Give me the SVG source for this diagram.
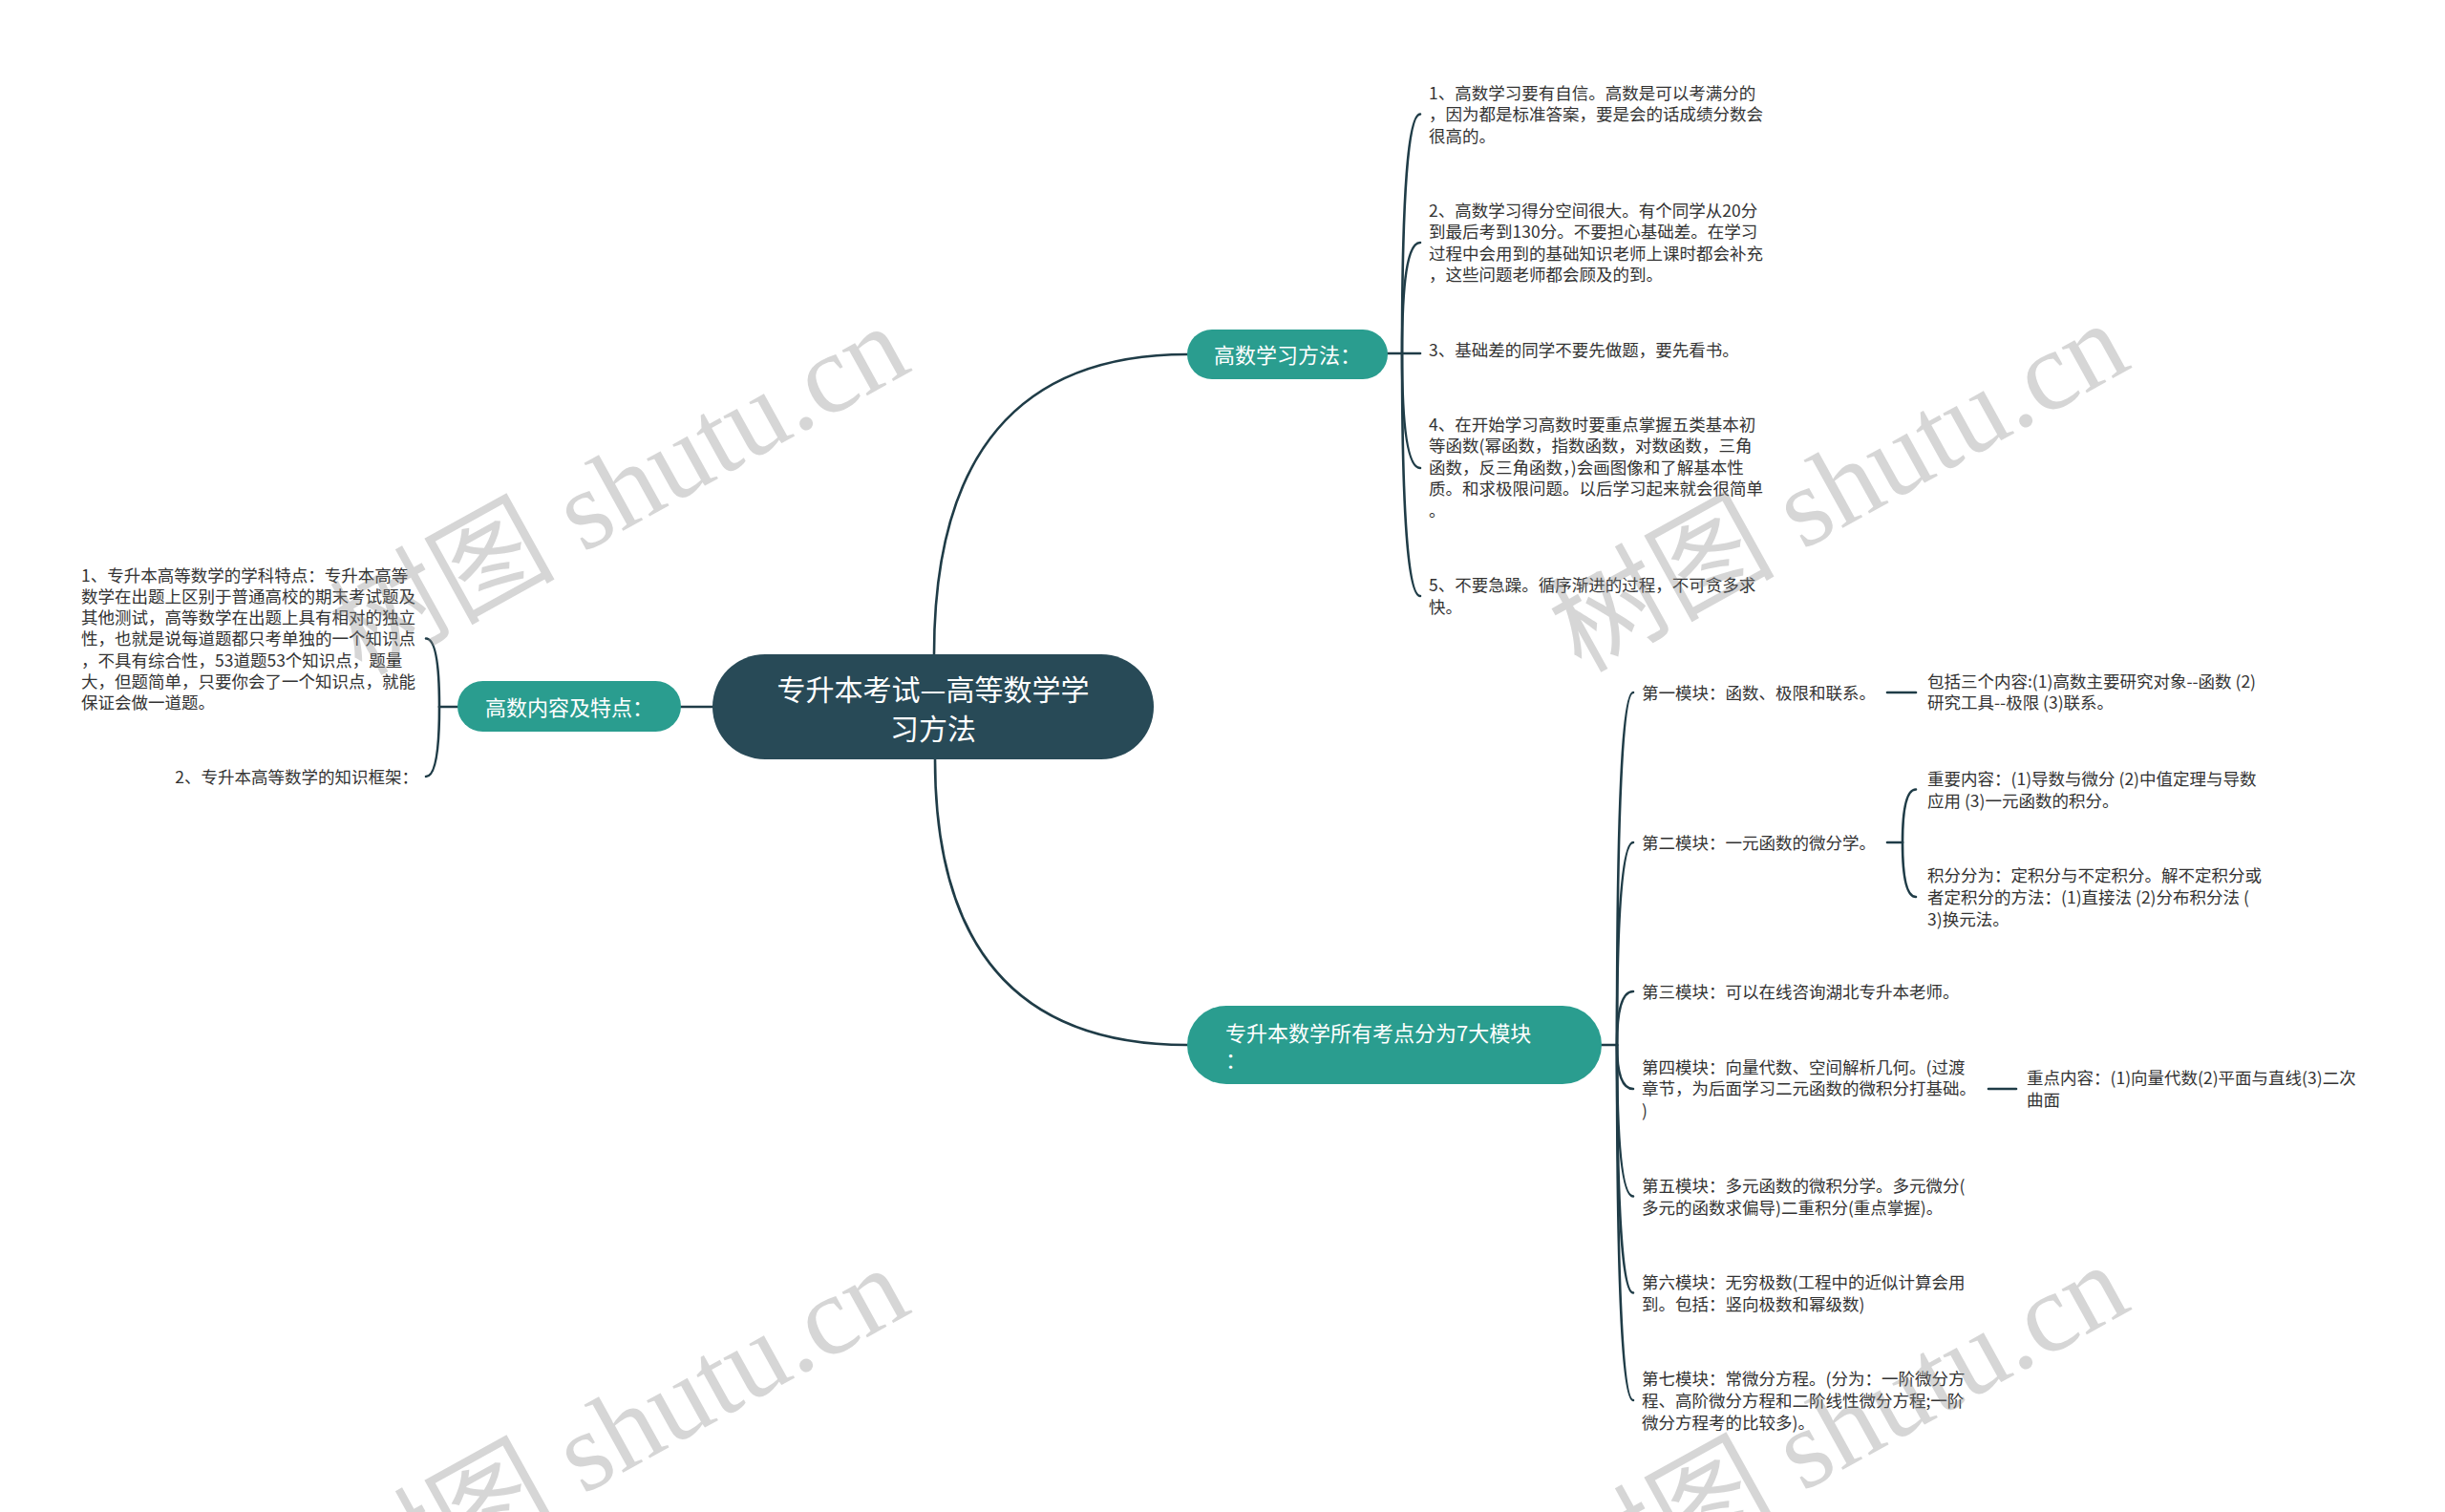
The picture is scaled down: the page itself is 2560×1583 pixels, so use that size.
<svg xmlns="http://www.w3.org/2000/svg" width="2560" height="1583" viewBox="0 0 2560 1583">
<style>
.leaf{font-family:"Noto Sans CJK SC","Liberation Sans",sans-serif;font-size:17.5px;fill:#333}
.root{font-family:"Noto Sans CJK SC","Liberation Sans",sans-serif;font-size:30px;fill:#fff}
.main{font-family:"Noto Sans CJK SC","Liberation Sans",sans-serif;font-size:22px;fill:#fff}
.conn path{fill:none;stroke:#1f3c47;stroke-width:2.6;stroke-linecap:round}
.wm{font-family:"Liberation Serif","Noto Sans CJK SC",serif;font-size:118px;fill:#888;opacity:0.34}
</style>
<rect width="2560" height="1583" fill="#fff"/>
<g class="conn" id="connectors">
<path d="M978 685 Q978 371 1243 371"/>
<path d="M979 795 Q979 1094 1243 1094"/>
<path d="M746 740 L713 740"/>
<path d="M1453 370 L1468 370"/>
<path d="M1468 370 Q1468 119.5 1487 119.5"/>
<path d="M1468 370 Q1468 254 1487 254"/>
<path d="M1468 370 L1487 370"/>
<path d="M1468 370 Q1468 490 1487 490"/>
<path d="M1468 370 Q1468 624 1487 624"/>
<path d="M479 740 L460 740"/>
<path d="M460 740 Q460 668.5 446 668.5"/>
<path d="M460 740 Q460 813 446 813"/>
<path d="M1677 1094 L1693 1094"/>
<path d="M1693 1094 Q1693 725 1710 725"/>
<path d="M1693 1094 Q1693 882 1710 882"/>
<path d="M1693 1094 Q1693 1038 1710 1038"/>
<path d="M1693 1094 Q1693 1140 1710 1140"/>
<path d="M1693 1094 Q1693 1252.5 1710 1252.5"/>
<path d="M1693 1094 Q1693 1353.5 1710 1353.5"/>
<path d="M1693 1094 Q1693 1466 1710 1466"/>
<path d="M1976 725 L2006 725"/>
<path d="M1976 882 L1992 882"/>
<path d="M1992 882 Q1992 826.5 2006 826.5"/>
<path d="M1992 882 Q1992 939 2006 939"/>
<path d="M2082 1140 L2111 1140"/>
</g>
<g id="root">
<rect x="746" y="685" width="462" height="110" rx="55" fill="#284a57"/>
<text class="root" text-anchor="middle"><tspan x="977" y="733">专升本考试—高等数学学</tspan><tspan x="977" y="774">习方法</tspan></text>
</g>
<g id="method">
<rect x="1243" y="345" width="210" height="52" rx="26" fill="#2a9d8f"/>
<text class="main" x="1348" y="379.5" text-anchor="middle">高数学习方法：</text>
</g>
<g id="content">
<rect x="479" y="713" width="234" height="53" rx="26.5" fill="#2a9d8f"/>
<text class="main" x="596" y="748.5" text-anchor="middle">高数内容及特点：</text>
</g>
<g id="modules">
<rect x="1243" y="1053" width="434" height="82" rx="41" fill="#2a9d8f"/>
<text class="main"><tspan x="1283" y="1089.5">专升本数学所有考点分为7大模块</tspan><tspan x="1283" y="1117.5">：</tspan></text>
</g>
<g id="m1"><text class="leaf"><tspan x="1496" y="103.5">1、高数学习要有自信。高数是可以考满分的</tspan><tspan x="1496" y="126">，因为都是标准答案，要是会的话成绩分数会</tspan><tspan x="1496" y="148.5">很高的。</tspan></text></g>
<g id="m2"><text class="leaf"><tspan x="1496" y="226.5">2、高数学习得分空间很大。有个同学从20分</tspan><tspan x="1496" y="249">到最后考到130分。不要担心基础差。在学习</tspan><tspan x="1496" y="271.5">过程中会用到的基础知识老师上课时都会补充</tspan><tspan x="1496" y="294">，这些问题老师都会顾及的到。</tspan></text></g>
<g id="m3"><text class="leaf" x="1496" y="372.5">3、基础差的同学不要先做题，要先看书。</text></g>
<g id="m4"><text class="leaf"><tspan x="1496" y="450.5">4、在开始学习高数时要重点掌握五类基本初</tspan><tspan x="1496" y="473">等函数(幂函数，指数函数，对数函数，三角</tspan><tspan x="1496" y="495.5">函数，反三角函数，)会画图像和了解基本性</tspan><tspan x="1496" y="518">质。和求极限问题。以后学习起来就会很简单</tspan><tspan x="1496" y="540.5">。</tspan></text></g>
<g id="m5"><text class="leaf"><tspan x="1496" y="619">5、不要急躁。循序渐进的过程，不可贪多求</tspan><tspan x="1496" y="641.5">快。</tspan></text></g>
<g id="c1"><text class="leaf"><tspan x="85" y="608.5">1、专升本高等数学的学科特点：专升本高等</tspan><tspan x="85" y="630.8">数学在出题上区别于普通高校的期末考试题及</tspan><tspan x="85" y="653.1">其他测试，高等数学在出题上具有相对的独立</tspan><tspan x="85" y="675.4">性，也就是说每道题都只考单独的一个知识点</tspan><tspan x="85" y="697.7">，不具有综合性，53道题53个知识点，题量</tspan><tspan x="85" y="720">大，但题简单，只要你会了一个知识点，就能</tspan><tspan x="85" y="742.3">保证会做一道题。</tspan></text></g>
<g id="c2"><text class="leaf" x="438" y="819.5" text-anchor="end">2、专升本高等数学的知识框架：</text></g>
<g id="k1"><text class="leaf" x="1719" y="731.5">第一模块：函数、极限和联系。</text></g>
<g id="k1a"><text class="leaf"><tspan x="2018" y="719.5">包括三个内容:(1)高数主要研究对象--函数 (2)</tspan><tspan x="2018" y="742">研究工具--极限 (3)联系。</tspan></text></g>
<g id="k2"><text class="leaf" x="1719" y="888.5">第二模块：一元函数的微分学。</text></g>
<g id="k2a"><text class="leaf"><tspan x="2018" y="821.5">重要内容：(1)导数与微分 (2)中值定理与导数</tspan><tspan x="2018" y="844.5">应用 (3)一元函数的积分。</tspan></text></g>
<g id="k2b"><text class="leaf"><tspan x="2018" y="922.5">积分分为：定积分与不定积分。解不定积分或</tspan><tspan x="2018" y="945.5">者定积分的方法：(1)直接法 (2)分布积分法 (</tspan><tspan x="2018" y="968.5">3)换元法。</tspan></text></g>
<g id="k3"><text class="leaf" x="1719" y="1044.5">第三模块：可以在线咨询湖北专升本老师。</text></g>
<g id="k4"><text class="leaf"><tspan x="1719" y="1123.5">第四模块：向量代数、空间解析几何。(过渡</tspan><tspan x="1719" y="1146">章节，为后面学习二元函数的微积分打基础。</tspan><tspan x="1719" y="1168.5">)</tspan></text></g>
<g id="k4a"><text class="leaf"><tspan x="2122" y="1134.5">重点内容：(1)向量代数(2)平面与直线(3)二次</tspan><tspan x="2122" y="1157.5">曲面</tspan></text></g>
<g id="k5"><text class="leaf"><tspan x="1719" y="1247.5">第五模块：多元函数的微积分学。多元微分(</tspan><tspan x="1719" y="1270.5">多元的函数求偏导)二重积分(重点掌握)。</tspan></text></g>
<g id="k6"><text class="leaf"><tspan x="1719" y="1348.5">第六模块：无穷极数(工程中的近似计算会用</tspan><tspan x="1719" y="1371.5">到。包括：竖向极数和幂级数)</tspan></text></g>
<g id="k7"><text class="leaf"><tspan x="1719" y="1449.5">第七模块：常微分方程。(分为：一阶微分方</tspan><tspan x="1719" y="1472.5">程、高阶微分方程和二阶线性微分方程;一阶</tspan><tspan x="1719" y="1495.5">微分方程考的比较多)。</tspan></text></g>
<g id="watermarks">
<text class="wm" transform="translate(378 708) rotate(-29)">树图 shutu.cn</text>
<text class="wm" transform="translate(1655 705) rotate(-29)">树图 shutu.cn</text>
<text class="wm" transform="translate(378 1694) rotate(-29)">树图 shutu.cn</text>
<text class="wm" transform="translate(1655 1691) rotate(-29)">树图 shutu.cn</text>
</g>
</svg>
